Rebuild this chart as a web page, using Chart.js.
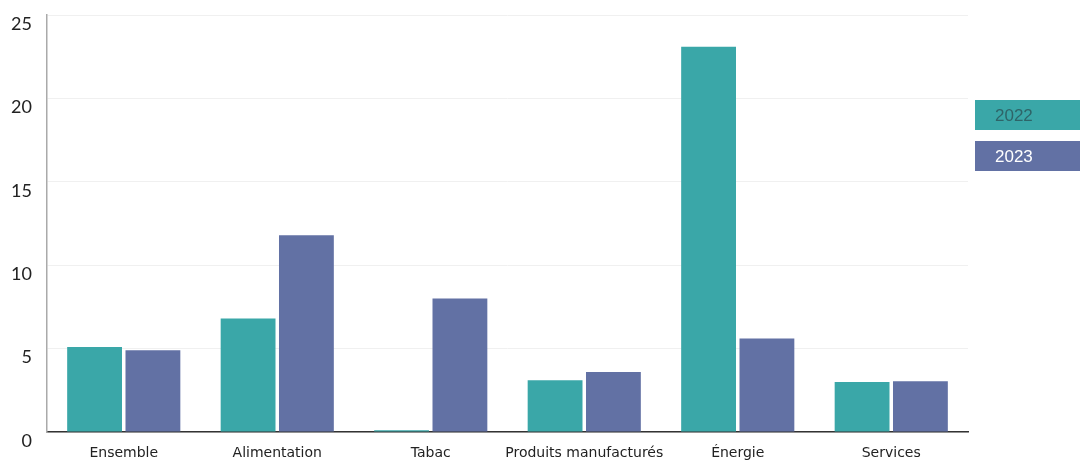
<!DOCTYPE html>
<html>
<head>
<meta charset="utf-8">
<script src="https://cdn.jsdelivr.net/npm/chart.js@4/dist/chart.umd.min.js"></script>
<style>
html,body{margin:0;padding:0;background:#fff;}
#wrap{position:relative;width:1080px;height:462px;}
</style>
</head>
<body>
<div id="wrap"><canvas id="c" width="1080" height="462"></canvas></div>
<script>
const categories = ["Ensemble", "Alimentation", "Tabac", "Produits manufacturés", "Énergie", "Services"];
const values2022 = [5.1, 6.8, 0.1, 3.1, 23.1, 3.0];
const values2023 = [4.9, 11.8, 8.0, 3.6, 5.6, 3.05];
const seriesLabels = ["2022", "2023"];
const yTicks = [0, 5, 10, 15, 20, 25];

const colors = ["#3aa7a8", "#6271a4"];
const legendTextColors = ["#2e6468", "#ffffff"];

const legendPlugin = {
  id: 'boxLegend',
  afterDraw(chart) {
    const ctx = chart.ctx;
    ctx.save();
    chart.data.datasets.forEach((ds, i) => {
      const x = 975, y = 100 + i * 41, w = 110, h = 30;
      ctx.fillStyle = ds.backgroundColor;
      ctx.fillRect(x, y, w, h);
      ctx.fillStyle = legendTextColors[i];
      ctx.font = '17px "Liberation Sans", Arial, sans-serif';
      ctx.textBaseline = 'middle';
      ctx.textAlign = 'left';
      ctx.fillText(ds.label, x + 20, y + h / 2 + 1);
    });
    ctx.restore();
  }
};

new Chart(document.getElementById('c'), {
  type: 'bar',
  data: {
    labels: categories,
    datasets: [
      { label: seriesLabels[0], data: values2022, backgroundColor: colors[0] },
      { label: seriesLabels[1], data: values2023, backgroundColor: colors[1] }
    ]
  },
  options: {
    responsive: false,
    animation: false,
    devicePixelRatio: 1,
    layout: { padding: { top: 15, right: 112, left: 0, bottom: 0 } },
    plugins: { legend: { display: false }, tooltip: { enabled: false } },
    datasets: { bar: { categoryPercentage: 0.76, barPercentage: 0.94 } },
    scales: {
      x: {
        grid: { display: false, drawTicks: false },
        border: { display: true, color: '#333', width: 1.5 },
        ticks: { color: '#222', font: { family: 'DejaVu Sans', size: 14 }, padding: 13, maxRotation: 0, autoSkip: false },
        afterFit(scale) { scale.height = 30; scale.paddingLeft = 0; scale.paddingRight = 0; }
      },
      y: {
        min: 0, max: 25,
        afterBuildTicks(scale) { scale.ticks = yTicks.map(v => ({ value: v })); },
        grid: { color: '#f0f0f0', drawTicks: false },
        border: { display: true, color: '#aaa', width: 1.5 },
        ticks: { color: '#222', font: { family: 'Lato', size: 18 }, padding: 15, labelOffset: 9 },
        afterFit(scale) { scale.width = 47; scale.paddingTop = 0; scale.paddingBottom = 0; }
      }
    }
  },
  plugins: [legendPlugin]
});
</script>
</body>
</html>
